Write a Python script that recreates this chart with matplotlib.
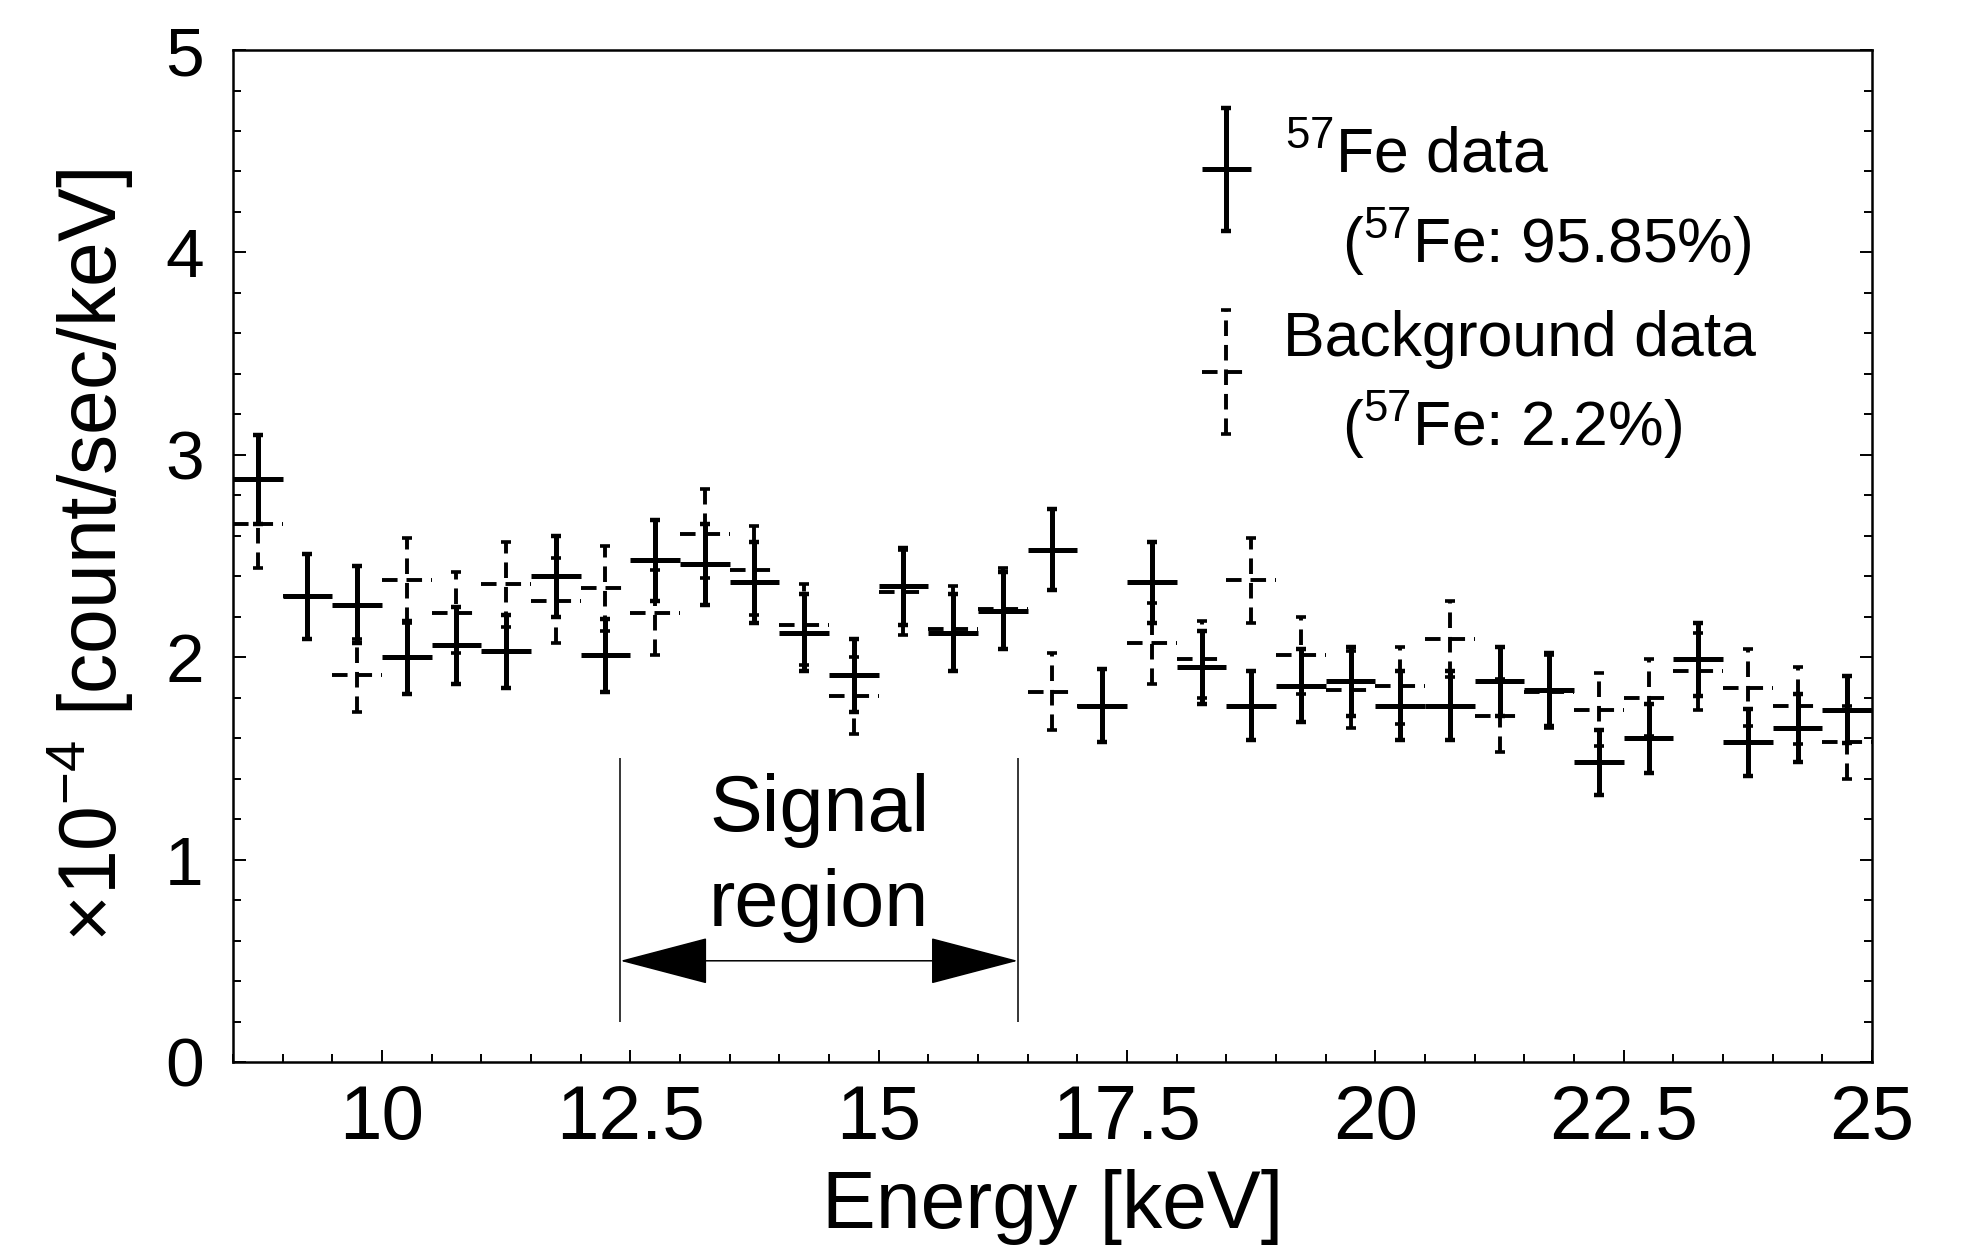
import matplotlib
matplotlib.use("Agg")
import matplotlib.pyplot as plt
from matplotlib.patches import FancyArrowPatch
from matplotlib.ticker import MultipleLocator

plt.rcParams['font.family'] = ['Liberation Sans', 'DejaVu Sans']
plt.rcParams['mathtext.fontset'] = 'custom'
plt.rcParams['mathtext.rm'] = 'Liberation Sans'
plt.rcParams['mathtext.it'] = 'Liberation Sans:italic'
plt.rcParams['mathtext.default'] = 'regular'

# bin centres [keV], bin width 0.5 keV
energy = [8.75, 9.25, 9.75, 10.25, 10.75, 11.25, 11.75, 12.25, 12.75, 13.25, 13.75,
          14.25, 14.75, 15.25, 15.75, 16.25, 16.75, 17.25, 17.75, 18.25, 18.75, 19.25,
          19.75, 20.25, 20.75, 21.25, 21.75, 22.25, 22.75, 23.25, 23.75, 24.25, 24.75]
bin_half = 0.25

# 57Fe data [x1e-4 count/sec/keV]
fe_rate = [2.88, 2.30, 2.26, 2.00, 2.06, 2.03, 2.40, 2.01, 2.48, 2.46, 2.37,
           2.12, 1.91, 2.35, 2.12, 2.23, 2.53, 1.76, 2.37, 1.95, 1.76, 1.86,
           1.88, 1.76, 1.76, 1.88, 1.84, 1.48, 1.60, 1.99, 1.58, 1.65, 1.74]
fe_err = [0.22, 0.21, 0.19, 0.18, 0.19, 0.18, 0.20, 0.18, 0.20, 0.20, 0.20,
          0.19, 0.18, 0.19, 0.19, 0.19, 0.20, 0.18, 0.20, 0.18, 0.17, 0.18,
          0.17, 0.17, 0.17, 0.17, 0.18, 0.16, 0.17, 0.18, 0.165, 0.17, 0.165]

# background data
bg_rate = [2.66, 2.30, 1.91, 2.38, 2.22, 2.36, 2.28, 2.34, 2.22, 2.61, 2.43,
           2.16, 1.81, 2.32, 2.14, 2.24, 1.83, 1.76, 2.07, 1.99, 2.38, 2.01,
           1.84, 1.86, 2.09, 1.71, 1.83, 1.74, 1.80, 1.93, 1.85, 1.76, 1.58]
bg_err = [0.22, 0.21, 0.18, 0.21, 0.20, 0.21, 0.21, 0.21, 0.21, 0.22, 0.22,
          0.20, 0.19, 0.21, 0.21, 0.20, 0.19, 0.18, 0.20, 0.19, 0.21, 0.19,
          0.19, 0.19, 0.19, 0.18, 0.18, 0.18, 0.19, 0.19, 0.19, 0.19, 0.18]

# signal region [keV]
sig_lo, sig_hi = 12.4, 16.4

SOLID = dict(ls='-', lw=3.6, cap=3.2)
DASHED = dict(ls=(0, (4, 2.3)), lw=2.8, cap=2.6)

fig = plt.figure(figsize=(19.66, 12.45), dpi=100)
ax = fig.add_axes([0.1185, 0.147, 0.8337, 0.8128])


def draw(x, y, err, st):
    h = ax.errorbar(x, y, xerr=bin_half, fmt='none', ecolor='k',
                    elinewidth=st['lw'], capsize=0)
    v = ax.errorbar(x, y, yerr=err, fmt='none', ecolor='k',
                    elinewidth=st['lw'], capsize=3.6, capthick=st['cap'])
    for c in list(h.lines[2]) + list(v.lines[2]):
        c.set_linestyle(st['ls'])


draw(energy, bg_rate, bg_err, DASHED)
draw(energy, fe_rate, fe_err, SOLID)

# legend (drawn by hand, like the original)
draw([18.5], [4.41], [0.305], SOLID)
draw([18.5], [3.41], [0.305], DASHED)
ax.text(19.09, 4.40, '$^{57}$Fe data', fontsize=45, va='baseline')
ax.text(19.66, 3.95, '($^{57}$Fe: 95.85%)', fontsize=45, va='baseline')
ax.text(19.07, 3.49, 'Background data', fontsize=45, va='baseline')
ax.text(19.66, 3.05, '($^{57}$Fe: 2.2%)', fontsize=45, va='baseline')

# signal region
ax.vlines([sig_lo, sig_hi], 0.2, 1.5, colors='k', lw=1.1)
arr = FancyArrowPatch((sig_lo, 0.5), (sig_hi, 0.5),
                      arrowstyle='<|-|>,head_length=59,head_width=15.5',
                      mutation_scale=1, lw=1.1, color='k', shrinkA=0, shrinkB=0)
ax.add_patch(arr)
sig_mid = (sig_lo + sig_hi) / 2
ax.text(sig_mid, 1.14, 'Signal', fontsize=57, ha='center', va='baseline')
ax.text(sig_mid, 0.67, 'region', fontsize=57, ha='center', va='baseline')

ax.set_xlim(8.5, 25)
ax.set_ylim(0, 5)
ax.set_xticks([10, 12.5, 15, 17.5, 20, 22.5, 25])
ax.set_xticklabels(['10', '12.5', '15', '17.5', '20', '22.5', '25'])
ax.xaxis.set_minor_locator(MultipleLocator(0.5))
ax.yaxis.set_major_locator(MultipleLocator(1))
ax.yaxis.set_minor_locator(MultipleLocator(0.2))
ax.tick_params(which='both', direction='in', right=True, top=False, width=1.4)
ax.tick_params(which='major', length=9)
ax.tick_params(which='minor', length=6)
ax.tick_params(axis='x', which='major', labelsize=55, pad=16)
ax.tick_params(axis='y', which='major', labelsize=50, pad=21)
for s in ax.spines.values():
    s.set_linewidth(1.8)

ax.set_xlabel('Energy [keV]', fontsize=58)
ax.xaxis.label.set_va('baseline')
ax.xaxis.set_label_coords(0.5, -0.164)
ax.set_ylabel('×10$^{-4}$ [count/sec/keV]', fontsize=58)
ax.yaxis.set_label_coords(-0.06, 0.5)

fig.savefig('out.png', dpi=100)
